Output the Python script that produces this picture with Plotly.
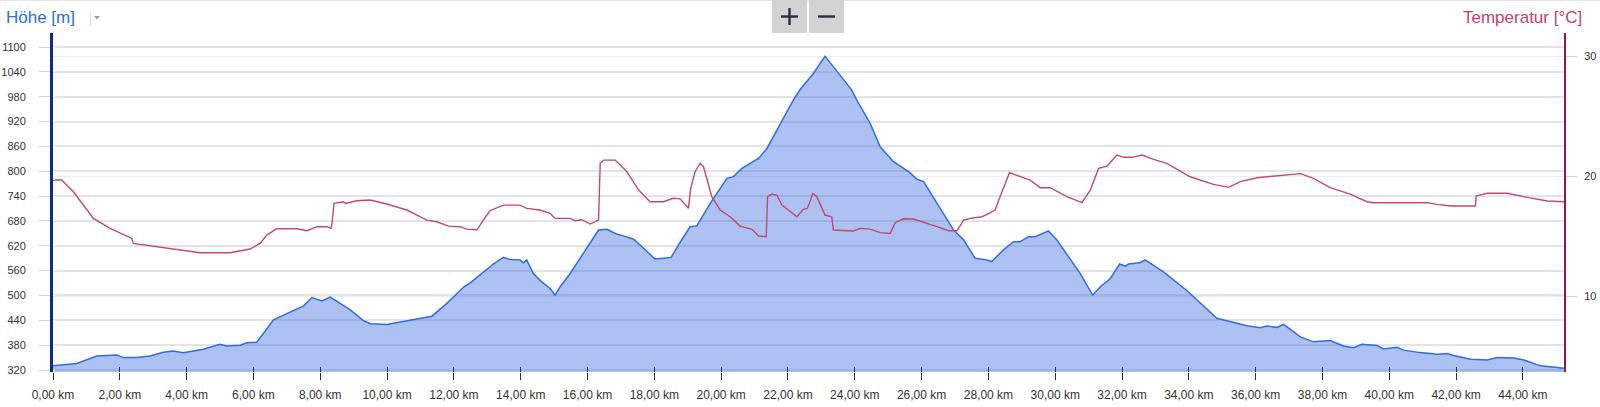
import plotly.graph_objects as go

# ---------------- data ----------------
elev_km = [0, 0.71, 1.31, 1.91, 2.1, 2.5, 2.9, 3.3, 3.6, 3.9, 4.5, 5.0, 5.2, 5.6, 5.8, 6.1, 6.6, 7.1, 7.5, 7.75,
           8.05, 8.3, 8.9, 9.3, 9.5, 9.99, 10.59, 11.0, 11.34, 11.79, 12.3, 12.5, 12.88, 13.18, 13.48, 13.68,
           13.98, 14.08, 14.18, 14.38, 14.63, 14.88, 15.03, 15.18, 15.48, 15.78, 16.08, 16.33, 16.58, 16.88,
           17.08, 17.38, 17.68, 18.02, 18.27, 18.5, 18.77, 19.07, 19.27, 19.67, 20.17, 20.37, 20.62, 21.12,
           21.37, 21.77, 22.16, 22.37, 22.76, 23.11, 23.46, 23.91, 24.06, 24.46, 24.76, 25.16, 25.61, 25.86,
           26.06, 26.46, 26.96, 27.26, 27.6, 27.95, 28.1, 28.45, 28.75, 28.95, 29.2, 29.4, 29.6, 29.8, 30.05,
           30.45, 30.75, 31.12, 31.35, 31.65, 31.93, 32.1, 32.2, 32.54, 32.69, 33.24, 33.94, 34.84, 35.24,
           35.74, 36.14, 36.34, 36.64, 36.84, 37.34, 37.73, 38.23, 38.63, 38.93, 39.18, 39.63, 39.83, 40.23,
           40.43, 40.93, 41.43, 41.73, 41.93, 42.43, 42.93, 43.23, 43.73, 44.03, 44.53, 45.23]
elev_m = [330, 336, 354, 356, 350, 350, 354, 363, 366, 362, 370, 382, 378, 380, 386, 387, 441, 459, 475, 495,
          487, 496, 465, 439, 432, 430, 439, 445, 450, 481, 521, 531, 557, 576, 592, 587,
          586, 579, 586, 553, 533, 517, 501, 521, 553, 590, 626, 658, 660, 648,
          644, 636, 614, 588, 590, 592, 628, 666, 668, 722, 783, 787, 807, 831,
          855, 916, 972, 998, 1036, 1078, 1041, 996, 972, 916, 859, 823, 799, 781,
          775, 722, 658, 634, 590, 586, 582, 610, 630, 630, 642, 642, 650, 656, 634,
          586, 553, 501, 521, 541, 576, 571, 576, 579, 586, 557, 512, 445, 437,
          427, 422, 426, 423, 430, 400, 388, 391, 378, 374, 382, 379, 371, 375,
          368, 362, 358, 360, 355, 346, 344, 350, 349, 344, 330, 324]

temp_km = [0, 0.26, 0.61, 1.21, 1.71, 2.36, 2.4, 3.1, 3.9, 4.4, 5.3, 5.9, 6.2, 6.4, 6.7, 7.3, 7.6, 7.9, 8.2,
           8.32, 8.36, 8.41, 8.69, 8.76, 9.09, 9.49, 9.99, 10.59, 11.19, 11.49, 11.84, 12.19, 12.38, 12.69,
           12.88, 13.08, 13.48, 13.98, 14.18, 14.58, 14.88, 15.03, 15.48, 15.63, 15.83, 16.08, 16.33, 16.38,
           16.48, 16.83, 17.18, 17.53, 17.87, 18.27, 18.57, 18.77, 19.02, 19.09, 19.22, 19.37, 19.47, 19.72,
           19.97, 20.27, 20.57, 20.92, 21.12, 21.35, 21.39, 21.52, 21.67, 21.82, 22.27, 22.46, 22.58, 22.75,
           22.86, 23.11, 23.31, 23.36, 23.96, 24.16, 24.46, 24.76, 25.06, 25.21, 25.46, 25.76, 26.46, 26.81,
           27.06, 27.26, 27.46, 27.81, 28.05, 28.2, 28.35, 28.63, 29.25, 29.55, 29.85, 30.35, 30.8, 31.05,
           31.3, 31.55, 31.85, 32.05, 32.3, 32.6, 32.94, 33.34, 34.04, 34.74, 35.19, 35.54, 36.04, 36.74,
           37.34, 37.73, 38.23, 38.83, 39.33, 39.53, 41.13, 41.43, 41.83, 42.58, 42.6, 42.93, 43.53, 44.13,
           44.73, 45.23]
temp_c = [19.67, 19.67, 18.69, 16.47, 15.64, 14.8, 14.39, 14.11, 13.83, 13.61, 13.61, 13.92, 14.39, 15.08,
          15.61, 15.61, 15.44, 15.78, 15.78, 15.64, 16.19, 17.72, 17.86, 17.72, 17.94, 18.0, 17.67, 17.17,
          16.33, 16.19, 15.83, 15.78, 15.58, 15.5, 16.33, 17.11, 17.58, 17.58, 17.31, 17.17, 16.89, 16.47,
          16.47, 16.28, 16.36, 16.0, 16.33, 21.06, 21.33, 21.33, 20.36, 18.83, 17.86, 17.86, 18.15, 18.1,
          17.31, 18.97, 20.36, 21.06, 20.8, 18.28, 17.17, 16.61, 15.83, 15.56, 15.0, 14.94, 18.28, 18.5,
          18.4, 17.58, 16.61, 17.22, 17.3, 18.56, 18.3, 16.75, 16.6, 15.5, 15.42, 15.64, 15.58, 15.28,
          15.22, 16.11, 16.44, 16.42, 15.78, 15.44, 15.44, 16.33, 16.47, 16.61, 16.94, 17.17, 18.28, 20.28,
          19.67, 19.03, 19.03, 18.28, 17.78, 18.83, 20.64, 20.83, 21.75, 21.56, 21.56, 21.75, 21.39, 21.06,
          19.94, 19.31, 19.06, 19.53, 19.86, 20.03, 20.2, 19.81, 19.03, 18.5, 17.86, 17.78, 17.78, 17.64,
          17.5, 17.5, 18.33, 18.56, 18.56, 18.22, 17.92, 17.86]

x_ticks = list(range(0, 45, 2))
x_ticktext = [f"{v},00 km" for v in x_ticks]
elev_ticks = list(range(320, 1101, 60))
temp_ticks = [10, 20, 30]

# ---------------- layout geometry (pixels) ----------------
W, H = 1600, 407
L, R, T, B = 53, 1564, 33, 372


def px(x):
    return (x - L) / (R - L)


def py(y):
    return (B - y) / (B - T)


FONT = "Liberation Sans, Arial, sans-serif"

fig = go.Figure()
fig.add_trace(go.Scatter(
    x=elev_km, y=elev_m, mode="lines", fill="tozeroy",
    line=dict(color="#2f6de0", width=1.5),
    fillcolor="rgba(60,110,225,0.42)",
    name="Höhe", hoverinfo="x+y"))
fig.add_trace(go.Scatter(
    x=temp_km, y=temp_c, mode="lines", xaxis="x2", yaxis="y2",
    line=dict(color="#c24a6c", width=1.4),
    name="Temperatur"))

fig.update_layout(
    width=W, height=H,
    margin=dict(l=L, r=W - R, t=T, b=H - B, pad=0, autoexpand=False),
    paper_bgcolor="white", plot_bgcolor="white",
    showlegend=False,
    font=dict(family=FONT, size=11, color="#333333"),
    xaxis=dict(
        range=[0, 45.23], tickmode="array", tickvals=x_ticks, ticktext=x_ticktext,
        ticks="outside", ticklen=7, tickcolor="#333333", tickwidth=1,
        tickfont=dict(size=12, color="#333333"), ticklabelstandoff=5,
        showgrid=False, zeroline=False, showline=False, automargin=False,
    ),
    xaxis2=dict(
        range=[0, 45.23], overlaying="x", anchor="y", side="bottom",
        tickmode="array", tickvals=x_ticks, ticks="inside", ticklen=5,
        tickcolor="#333333", tickwidth=1, showticklabels=False,
        showgrid=False, zeroline=False, showline=False, automargin=False,
    ),
    yaxis=dict(
        range=[315.2, 1133.9], tickmode="array", tickvals=elev_ticks,
        showgrid=True, gridcolor="#e4e4e4", gridwidth=2,
        showline=True, linecolor="#0d2a8c", linewidth=3,
        ticks="outside", ticklen=11, tickcolor="#c8d6e8", tickwidth=1,
        ticklabelstandoff=11, tickfont=dict(size=11, color="#333333"),
        zeroline=False, automargin=False,
        minor=dict(ticks="inside", ticklen=2, tickcolor="white", tickwidth=1, dtick=20, tick0=320, showgrid=False),
    ),
    yaxis2=dict(
        range=[3.67, 31.92], overlaying="y", side="right", anchor="x2",
        tickmode="array", tickvals=temp_ticks,
        showgrid=True, gridcolor="#ececec", gridwidth=1,
        showline=True, linecolor="#a3143f", linewidth=2,
        ticks="outside", ticklen=11, tickcolor="#c8d6e8", tickwidth=1,
        ticklabelstandoff=5, tickfont=dict(size=11, color="#333333"),
        zeroline=False, automargin=False,
    ),
)

shapes = []
# top border line
shapes.append(dict(type="line", xref="paper", yref="paper", x0=px(0), x1=px(W), y0=py(0.5), y1=py(0.5),
                   line=dict(color="#e6e6e6", width=1)))
# zoom buttons
for x0, x1 in [(772, 807), (809, 844)]:
    shapes.append(dict(type="rect", xref="paper", yref="paper", x0=px(x0), x1=px(x1), y0=py(33), y1=py(0),
                       fillcolor="#d3d3d3", line=dict(width=0)))
# plus sign
shapes.append(dict(type="line", xref="paper", yref="paper", x0=px(781), x1=px(798), y0=py(16.5), y1=py(16.5),
                   line=dict(color="#2b2f38", width=2.4)))
shapes.append(dict(type="line", xref="paper", yref="paper", x0=px(789.5), x1=px(789.5), y0=py(8), y1=py(25),
                   line=dict(color="#2b2f38", width=2.4)))
# minus sign
shapes.append(dict(type="line", xref="paper", yref="paper", x0=px(818), x1=px(835), y0=py(16.5), y1=py(16.5),
                   line=dict(color="#2b2f38", width=2.4)))
# dropdown divider + arrow
shapes.append(dict(type="line", xref="paper", yref="paper", x0=px(90.5), x1=px(90.5), y0=py(10), y1=py(26),
                   line=dict(color="#dddddd", width=1)))
shapes.append(dict(type="path", xref="paper", yref="paper",
                   path=f"M {px(94)} {py(16)} L {px(100)} {py(16)} L {px(97)} {py(19.5)} Z",
                   fillcolor="#9a9a9a", line=dict(width=0)))
fig.update_layout(shapes=shapes)

fig.add_annotation(text="Höhe [m]", xref="paper", yref="paper", x=px(4), y=py(17),
                   xanchor="left", yanchor="middle", showarrow=False,
                   font=dict(family=FONT, size=17, color="#2a6fe6"))
fig.add_annotation(text="Temperatur [°C]", xref="paper", yref="paper", x=px(1584), y=py(17),
                   xanchor="right", yanchor="middle", showarrow=False,
                   font=dict(family=FONT, size=17, color="#c8406e"))

fig.write_html("out.html", config={"displayModeBar": False},
               post_script="document.body.style.margin='0';document.body.style.overflow='hidden';")
